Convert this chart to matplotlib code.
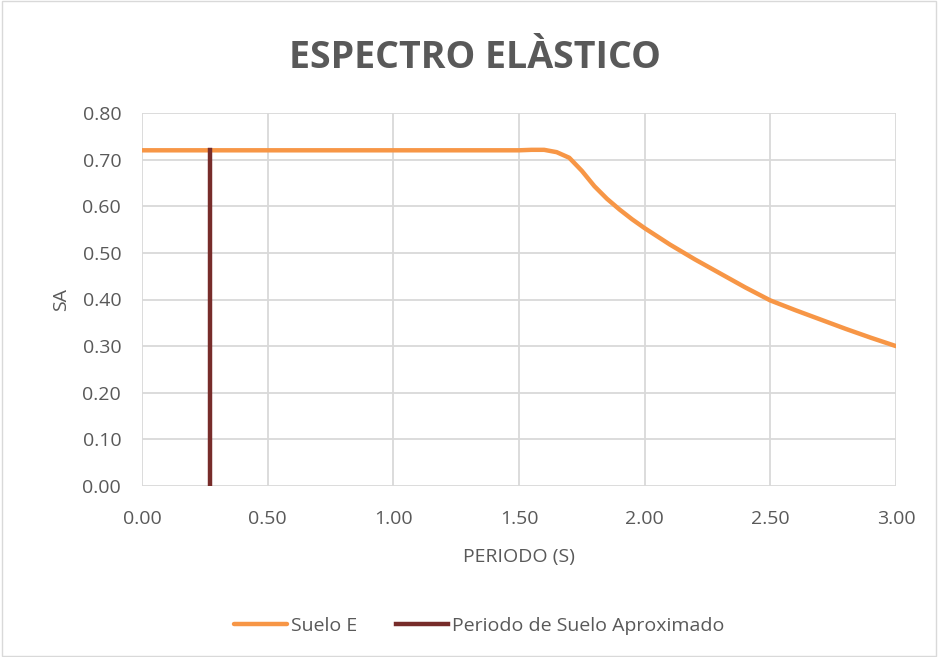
import matplotlib.pyplot as plt
from matplotlib.patches import Rectangle

# datos
periodo = [0.0, 0.5, 1.0, 1.5, 1.55, 1.6, 1.65, 1.7, 1.75, 1.8, 1.85, 1.9, 1.95,
           2.0, 2.1, 2.2, 2.3, 2.4, 2.5, 2.6, 2.7, 2.8, 2.9, 3.0]
sa = [0.72, 0.72, 0.72, 0.72, 0.721, 0.721, 0.716, 0.704, 0.676, 0.643, 0.616,
      0.593, 0.572, 0.553, 0.518, 0.486, 0.456, 0.426, 0.398, 0.377, 0.357,
      0.337, 0.318, 0.30]
t_suelo = [0.27, 0.27]
sa_suelo = [0.0, 0.72]

xticks = [0.0, 0.5, 1.0, 1.5, 2.0, 2.5, 3.0]
yticks = [0.0, 0.1, 0.2, 0.3, 0.4, 0.5, 0.6, 0.7, 0.8]

gris = '#595959'
plt.rcParams['font.family'] = ['Open Sans', 'DejaVu Sans']

fig = plt.figure(figsize=(9.38, 6.57), dpi=100)
ax = fig.add_axes([142/938, 1-486/657, (896-142)/938, (486-113)/657])

ax.plot(periodo, sa, color='#F79646', linewidth=3.2, label='Suelo E',
        solid_capstyle='round')
ax.plot(t_suelo, sa_suelo, color='#772C2A', linewidth=3.2,
        label='Periodo de Suelo Aproximado')

ax.set_xlim(0, 3.0)
ax.set_ylim(0, 0.8)
ax.set_xticks(xticks)
ax.set_yticks(yticks)
ax.set_xticklabels(['%.2f' % v for v in xticks])
ax.set_yticklabels(['%.2f' % v for v in yticks])
ax.tick_params(length=0, labelsize=14, labelcolor=gris)
ax.tick_params(axis='y', pad=15)
ax.tick_params(axis='x', pad=17)
ax.grid(True, color='#D9D9D9', linewidth=1.3)
ax.set_axisbelow(True)
for s in ax.spines.values():
    s.set_visible(False)

ax.set_xlabel('PERIODO (S)', fontsize=14, color=gris, labelpad=15)
ax.set_ylabel('SA', fontsize=14, color=gris, labelpad=9)

# titulo con un poco de espacio entre letras
titulo = 'ESPECTRO ELÀSTICO'
fig.text(0.506, 0.912, titulo, ha='center', va='center',
         fontsize=27, fontweight='bold', color=gris,
         fontstretch='expanded')

leg = fig.legend(loc='center', bbox_to_anchor=(0.511, 0.047), ncol=2,
                 frameon=False, fontsize=14, handlelength=2.7,
                 handletextpad=0.2, columnspacing=2.0)
for t in leg.get_texts():
    t.set_color(gris)

fig.add_artist(Rectangle((0.002, 0.002), 0.996, 0.996, transform=fig.transFigure,
                         fill=False, edgecolor='#D9D9D9', linewidth=1))

fig.savefig('out.png', dpi=100)
